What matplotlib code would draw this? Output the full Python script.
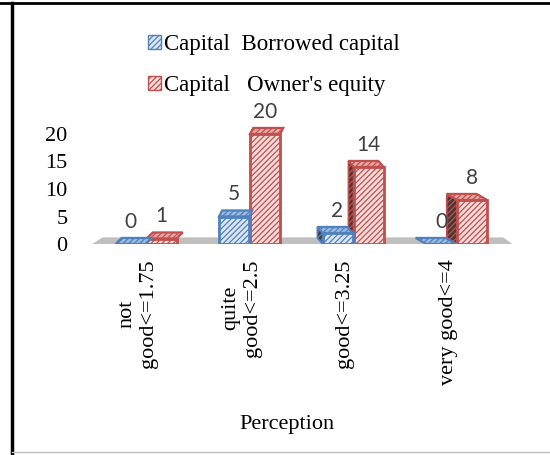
import numpy as np
import matplotlib
matplotlib.use("Agg")
import matplotlib.pyplot as plt
from matplotlib.patches import Polygon, Patch
from matplotlib.lines import Line2D

categories = ["not\ngood<=1.75", "quite\ngood<=2.5", "good<=3.25", "very good<=4"]
borrowed = [0, 5, 2, 0]
equity = [1, 20, 14, 8]
series_names = ["Capital  Borrowed capital", "Capital   Owner's equity"]

plt.rcParams['font.family'] = ['Liberation Serif', 'DejaVu Serif']
plt.rcParams['hatch.linewidth'] = 0.9

blue_edge = '#4f81bd'
blue_face = '#dce6f2'
blue_top = '#9dbbe0'
red_edge = '#c0504d'
red_face = '#f7dcdb'
red_top = '#e6a8a6'
side_col = '#4a3838'

fig = plt.figure(figsize=(5.5, 4.55), dpi=100)
ax = fig.add_axes([84/550, 211/455, 445/550, 121/455])
ax.set_xlim(-0.6, 3.7)
ax.set_ylim(0, 22)

# grey floor of the 3d chart
floor = Polygon([(-0.52, 0), (3.54, 0), (3.45, 1.2), (-0.42, 1.2)],
                closed=True, fc='#bfbfbf', ec='none', zorder=1)
ax.add_patch(floor)

xs = np.arange(len(categories))
w = 0.29
# perspective shift of the top faces for each group
shift = [0.06, 0.03, -0.05, -0.1]
depth = 1.1
hatch = '//////'

series = [(borrowed, -0.15, blue_face, blue_edge, blue_top),
          (equity, 0.15, red_face, red_edge, red_top)]

for vals, off, fc, ec, tc in series:
    z = 3 if off < 0 else 2.5
    ax.bar(xs + off, vals, w, color=fc, edgecolor=ec, hatch=hatch,
           linewidth=2, zorder=z)
    for i, v in enumerate(vals):
        x0 = i + off - w / 2
        x1 = i + off + w / 2
        dx = shift[i]
        top = Polygon([(x0, v), (x1, v), (x1 + dx, v + depth), (x0 + dx, v + depth)],
                      closed=True, fc=tc, ec=ec, hatch=hatch, lw=1.6, zorder=z)
        ax.add_patch(top)
        if dx < 0 and v > 0:
            side = Polygon([(x0, 0), (x0, v), (x0 + dx, v + depth), (x0 + dx, depth)],
                           closed=True, fc=side_col, ec=ec, hatch=hatch, lw=1.2,
                           zorder=2)
            ax.add_patch(side)
        ax.annotate(str(v), (i + off, v), xytext=(0, 16), textcoords='offset points',
                    ha='center', va='center', fontfamily='Lato', fontsize=15,
                    color='#404040', zorder=5)

ax.set_xticks(xs - 0.08)
ax.set_xticklabels(categories, rotation=90, fontsize=16, multialignment='center')
ax.tick_params(axis='x', length=0, pad=11)
ax.set_yticks([0, 5, 10, 15, 20])
ax.tick_params(axis='y', length=0, pad=12, labelsize=16)
for s in ax.spines.values():
    s.set_visible(False)
ax.patch.set_visible(False)

handles = [Patch(fc=blue_face, ec=blue_edge, hatch=hatch),
           Patch(fc=red_face, ec=red_edge, hatch=hatch)]
fig.legend(handles, series_names, loc='upper left',
           bbox_to_anchor=(148/550, 1 - 34/455), frameon=False, fontsize=16.5,
           handlelength=0.55, handleheight=0.55, handletextpad=0.15,
           labelspacing=0.86, borderpad=0, borderaxespad=0)

fig.text(287/550, 1 - 425/455, 'Perception', ha='center', va='center', fontsize=16)

# outer frame lines
fig.add_artist(Line2D([12/550, 12/550], [0, 1 - 3/455], color='black', lw=2.5,
                      transform=fig.transFigure))
fig.add_artist(Line2D([0, 1], [1 - 3/455, 1 - 3/455], color='black', lw=2,
                      transform=fig.transFigure))
fig.add_artist(Line2D([12/550, 1], [1 - 452/455, 1 - 452/455], color='#bfbfbf', lw=1,
                      transform=fig.transFigure))

fig.savefig('out.png', dpi=100)
